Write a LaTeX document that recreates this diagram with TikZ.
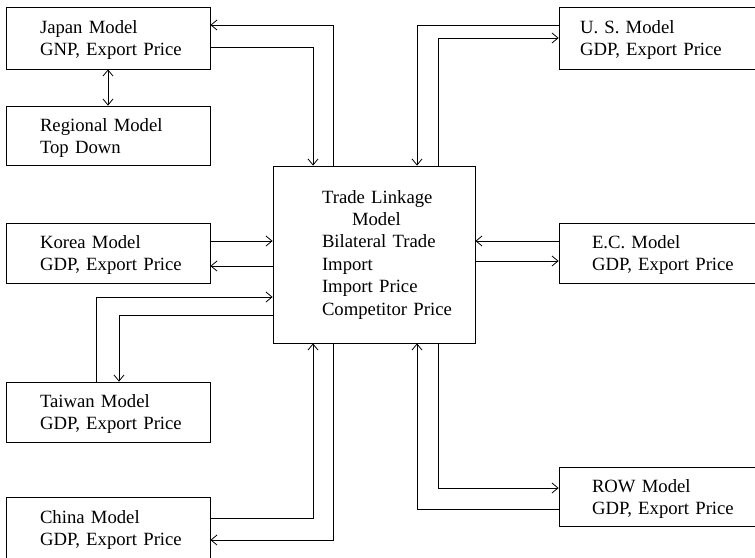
\documentclass[tikz,border=0pt]{standalone}
\usepackage{fontspec}
\setmainfont{Liberation Serif}
\usetikzlibrary{arrows.meta}
\newcommand\ind[1]{\hspace*{#1}}
\newcommand\topst{\rule{0pt}{17pt}}
\begin{document}
\begin{tikzpicture}[x=1pt,y=-1pt,
  line width=0.8pt,
  >={Straight Barb[length=6pt,width=10pt]},
  mbox/.style={draw, rectangle, inner xsep=0pt, inner ysep=0pt,
    text width=#1, align=left,
    font=\fontsize{18.7}{22}\selectfont},
  mbox/.default=204pt]
\clip (0,0) rectangle (755,557);
\node[mbox, minimum height=62pt] (japan) at (108,38) {\topst\ind{34pt}Japan Model\\\ind{34pt}GNP, Export Price};
\node[mbox, minimum height=59pt] (regional) at (108,135.5) {\topst\ind{34pt}Regional Model\\\ind{34pt}Top Down};
\node[mbox, minimum height=60pt] (korea) at (108,253) {\topst\ind{34pt}Korea Model\\\ind{34pt}GDP, Export Price};
\node[mbox, minimum height=60pt] (taiwan) at (108,412) {\topst\ind{34pt}Taiwan Model\\\ind{34pt}GDP, Export Price};
\node[mbox, minimum height=61pt] (china) at (108,527.5) {\topst\ind{34pt}China Model\\\ind{34pt}GDP, Export Price};
\node[mbox=206pt, minimum height=62pt] (us) at (662,38) {\topst\ind{21pt}U. S. Model\\\ind{21pt}GDP, Export Price};
\node[mbox=206pt, minimum height=60pt] (ec) at (662,253) {\topst\ind{33pt}E.C. Model\\\ind{33pt}GDP, Export Price};
\node[mbox=206pt, minimum height=59pt] (row) at (662,496.5) {\topst\ind{33pt}ROW Model\\\ind{33pt}GDP, Export Price};
\node[mbox=202pt, minimum height=177pt, font=\fontsize{18.7}{22.4}\selectfont] (trade) at (374,254.5)
  {\ind{49pt}Trade Linkage\\\ind{79pt}Model\\\ind{49pt}Bilateral Trade\\\ind{49pt}Import\\\ind{49pt}Import Price\\\ind{49pt}Competitor Price};

\draw[->] (japan.east |- 0,47) -| (trade.north -| 313,0);
\draw[->] (trade.north -| 333,0) |- (japan.east |- 0,25);
\draw[<->] (japan.south) -- (regional.north);
\draw[->] (us.west |- 0,25) -| (trade.north -| 417,0);
\draw[->] (trade.north -| 438,0) |- (us.west |- 0,38);
\draw[->] (korea.east |- 0,241) -- (trade.west |- 0,241);
\draw[->] (trade.west |- 0,266) -- (korea.east |- 0,266);
\draw[->] (taiwan.north -| 96,0) |- (trade.west |- 0,297);
\draw[->] (trade.west |- 0,315) -| (taiwan.north -| 119,0);
\draw[->] (ec.west |- 0,241) -- (trade.east |- 0,241);
\draw[->] (trade.east |- 0,261) -- (ec.west |- 0,261);
\draw[->] (china.east |- 0,518) -| (trade.south -| 313,0);
\draw[->] (trade.south -| 333,0) |- (china.east |- 0,540);
\draw[->] (row.west |- 0,509) -| (trade.south -| 417,0);
\draw[->] (trade.south -| 438,0) |- (row.west |- 0,488);
\end{tikzpicture}
\end{document}
